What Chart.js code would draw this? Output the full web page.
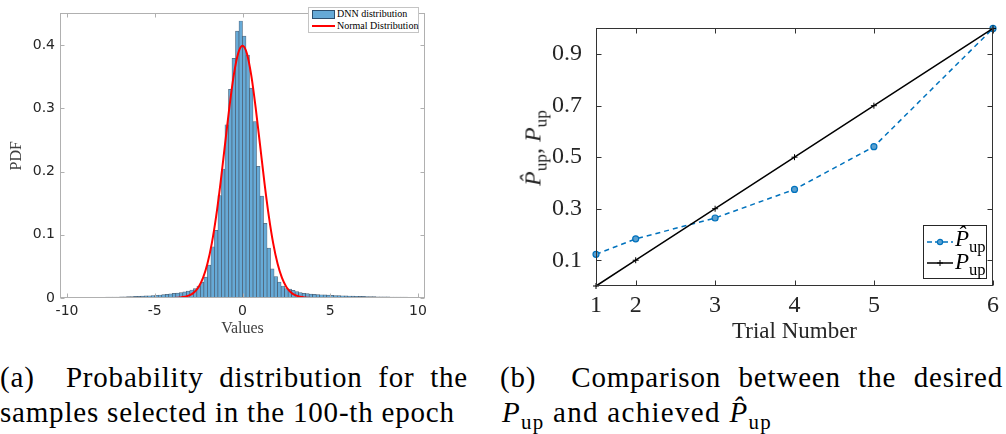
<!DOCTYPE html>
<html>
<head>
<meta charset="utf-8">
<script src="https://cdn.jsdelivr.net/npm/chart.js@4/dist/chart.umd.min.js"></script>
<style>
  html, body { margin: 0; padding: 0; background: #fff; }
  body { width: 1006px; height: 434px; position: relative; overflow: hidden; }
  .box { position: absolute; }
  .serif { font-family: 'Liberation Serif', serif; color: #000; }
  .nw { white-space: nowrap; }
  .cap { position: absolute; font-family: 'Liberation Serif', serif; font-size: 29px; line-height: 34px; white-space: nowrap; letter-spacing: 0.8px; }
  .just { text-align: justify; text-align-last: justify; white-space: normal; }
  sub { font-size: 72%; vertical-align: -0.35em; line-height: 0; font-style: normal; }
</style>
</head>
<body>
<div class="box" style="left:0;top:0;width:440px;height:360px"><canvas id="histChart"></canvas></div>
<div class="box" style="left:500px;top:0;width:506px;height:360px"><canvas id="trialChart"></canvas></div>

<!-- legend (a) -->
<div class="box serif" style="left:308px;top:7px;width:109px;height:24px;border:1px solid #c4c4c4;background:#fff;font-size:10px;line-height:12px">
  <div style="position:absolute;left:3px;top:2px;width:21px;height:7px;background:rgb(102,170,215);border:1px solid #2d4f6e"></div>
  <div class="nw" style="position:absolute;left:28px;top:0px">DNN distribution</div>
  <div style="position:absolute;left:3px;top:17px;width:23px;height:2px;background:#ff0000"></div>
  <div class="nw" style="position:absolute;left:28px;top:12px">Normal Distribution</div>
</div>

<!-- y title (b) -->
<div class="box serif" style="left:533px;top:148px;width:0;height:0">
  <div style="position:absolute;left:0;top:0;transform:translate(-50%,-50%) rotate(-90deg);font-size:24px;white-space:nowrap;color:#262626"><i>P̂</i><sub>up</sub>, <i>P</i><sub>up</sub></div>
</div>

<!-- legend (b) -->
<div class="box serif" style="left:923px;top:225px;width:62px;height:52px;border:1px solid #262626;background:#fff;font-size:23px">
  <svg style="position:absolute;left:2px;top:12px" width="28" height="8">
    <line x1="1" y1="4" x2="27" y2="4" stroke="#0072BD" stroke-width="1.5" stroke-dasharray="5,3"/>
    <circle cx="14" cy="4" r="2.6" fill="#5aa0d0" stroke="#0072BD" stroke-width="1.2"/>
  </svg>
  <div class="nw" style="position:absolute;left:31px;top:-2px;line-height:30px"><i>P̂</i><sub>up</sub></div>
  <svg style="position:absolute;left:2px;top:33px" width="28" height="8">
    <line x1="1" y1="4" x2="27" y2="4" stroke="#000" stroke-width="1.5"/>
    <line x1="14" y1="1" x2="14" y2="7" stroke="#000" stroke-width="1"/>
    <line x1="11" y1="4" x2="17" y2="4" stroke="#000" stroke-width="1"/>
  </svg>
  <div class="nw" style="position:absolute;left:31px;top:21px;line-height:30px"><i>P</i><sub>up</sub></div>
</div>

<!-- captions -->
<div class="cap just" style="left:0;top:360px;width:468px">(a)&nbsp; Probability distribution for the</div>
<div class="cap" style="left:0;top:395px">samples selected in the 100-th epoch</div>
<div class="cap just" style="left:500px;top:360px;width:503px">(b)&nbsp; Comparison between the desired</div>
<div class="cap" style="left:502px;top:395px;letter-spacing:1.3px"><i>P</i><sub>up</sub> and achieved <i>P̂</i><sub>up</sub></div>

<script>
// (a) histogram: bins of width 0.2 from -10 to 10
const binStart = -10;
const binWidth = 0.2;
const dnnPdf = [
  0.0005, 0.0005, 0.0006, 0.0006, 0.0007, 0.0008, 0.0008, 0.0009, 0.0010, 0.0011,
  0.0012, 0.0013, 0.0014, 0.0015, 0.0016, 0.0018, 0.0019, 0.0021, 0.0023, 0.0025,
  0.0027, 0.0030, 0.0033, 0.0036, 0.0040, 0.0044, 0.0048, 0.0053, 0.0059, 0.0066,
  0.0072, 0.0078, 0.0086, 0.0096, 0.0110,
  0.0127, 0.0150, 0.0190, 0.0250, 0.0330,
  0.052, 0.081, 0.107, 0.162, 0.204,
  0.274, 0.330, 0.379, 0.422, 0.438,
  0.414, 0.384, 0.332, 0.279, 0.208,
  0.161, 0.118, 0.079, 0.046, 0.034,
  0.025, 0.019, 0.015, 0.014, 0.012,
  0.010, 0.0085, 0.0075, 0.0068, 0.0062,
  0.0058, 0.0055, 0.0052, 0.0049, 0.0046, 0.0043, 0.0040, 0.0038, 0.0036, 0.0034,
  0.0032, 0.0030, 0.0028, 0.0026, 0.0025, 0.0024, 0.0022, 0.0021, 0.0020, 0.0019,
  0.0018, 0.0017, 0.0016, 0.0015, 0.0014, 0.0013, 0.0013, 0.0012, 0.0011, 0.0010
];
// red curve
const normX = [-5, -4.5, -4, -3.5, -3, -2.75, -2.5, -2.25, -2, -1.75, -1.5, -1.25, -1, -0.75, -0.5, -0.25, 0,
               0.25, 0.5, 0.75, 1, 1.25, 1.5, 1.75, 2, 2.25, 2.5, 2.75, 3, 3.5, 4, 4.5, 5];
const normY = [0, 0, 0.0001, 0.0009, 0.0044, 0.0091, 0.0175, 0.0317, 0.054, 0.0863, 0.1295, 0.1826, 0.242, 0.3011, 0.3521, 0.3867, 0.399,
               0.3867, 0.3521, 0.3011, 0.242, 0.1826, 0.1295, 0.0863, 0.054, 0.0317, 0.0175, 0.0091, 0.0044, 0.0009, 0.0001, 0, 0];
const xTicksA = [-10, -5, 0, 5, 10];
const yTicksA = [0, 0.1, 0.2, 0.3, 0.4];

// (b) trials: x position is the desired P_up
const trialPos = [0, 0.1, 0.3, 0.5, 0.7, 1.0];
const trialLabels = ['1', '2', '3', '4', '5', '6'];
const pDesired = [0, 0.1, 0.3, 0.5, 0.7, 1.0];
const pAchieved = [0.123, 0.183, 0.264, 0.375, 0.541, 1.0];
const yTicksB = [0.1, 0.3, 0.5, 0.7, 0.9];

// frame round the axes with inward ticks, MATLAB style
const boxTicks = {
  id: 'boxTicks',
  afterDraw(chart, args, opts) {
    const { ctx, chartArea: a, scales } = chart;
    const L = opts.len;
    ctx.save();
    ctx.strokeStyle = opts.color;
    ctx.lineWidth = 1;
    const l = Math.round(a.left) + 0.5, r = Math.round(a.right) - 0.5;
    const t = Math.round(a.top) + 0.5, b = Math.round(a.bottom) - 0.5;
    ctx.strokeRect(l, t, r - l, b - t);
    ctx.beginPath();
    scales.x.ticks.forEach(tk => {
      const px = Math.round(scales.x.getPixelForValue(tk.value)) + 0.5;
      ctx.moveTo(px, b); ctx.lineTo(px, b - L);
      ctx.moveTo(px, t); ctx.lineTo(px, t + L);
    });
    scales.y.ticks.forEach(tk => {
      const py = Math.round(scales.y.getPixelForValue(tk.value)) + 0.5;
      ctx.moveTo(l, py); ctx.lineTo(l + L, py);
      ctx.moveTo(r, py); ctx.lineTo(r - L, py);
    });
    ctx.stroke();
    ctx.restore();
  }
};

const sans = 'DejaVu Sans';
const serif = 'Liberation Serif';

new Chart(document.getElementById('histChart'), {
  data: {
    datasets: [{
      type: 'line',
      label: 'Normal Distribution',
      data: normX.map((x, i) => ({ x: x, y: normY[i] })),
      borderColor: '#ff0000',
      borderWidth: 2,
      pointRadius: 0,
      cubicInterpolationMode: 'monotone'
    }, {
      type: 'bar',
      label: 'DNN distribution',
      data: dnnPdf.map((v, i) => ({ x: binStart + binWidth * (i + 0.5), y: v })),
      backgroundColor: 'rgb(102,170,215)',
      borderColor: 'rgba(30,55,80,0.75)',
      borderWidth: 0.7,
      barPercentage: 1,
      categoryPercentage: 1,
      grouped: false
    }]
  },
  options: {
    responsive: true,
    maintainAspectRatio: false,
    animation: false,
    layout: { padding: { left: 0, top: 2, right: 15, bottom: 0 } },
    plugins: {
      legend: { display: false },
      tooltip: { enabled: false },
      boxTicks: { color: '#b0b0b0', len: 4 }
    },
    scales: {
      x: {
        type: 'linear',
        offset: false,
        min: -10.4,
        max: 10.4,
        afterBuildTicks: s => { s.ticks = xTicksA.map(v => ({ value: v })); },
        afterFit: s => { s.height = 62; },
        grid: { display: false, drawTicks: false, offset: false },
        border: { display: false },
        ticks: { color: '#262626', font: { family: sans, size: 14 }, padding: 5, maxRotation: 0, callback: v => String(v) },
        title: { display: true, text: 'Values', color: '#404040', font: { family: serif, size: 16 }, padding: { top: 0, bottom: 22 } }
      },
      y: {
        min: 0,
        max: 0.45,
        afterBuildTicks: s => { s.ticks = yTicksA.map(v => ({ value: v })); },
        afterFit: s => { s.width = 60; },
        grid: { display: false, drawTicks: false },
        border: { display: false },
        ticks: { color: '#262626', font: { family: sans, size: 14 }, padding: 5, callback: v => String(v) },
        title: { display: true, text: 'PDF', color: '#404040', font: { family: serif, size: 16 }, padding: { top: 7, bottom: 0 } }
      }
    }
  },
  plugins: [boxTicks]
});

new Chart(document.getElementById('trialChart'), {
  type: 'line',
  data: {
    datasets: [{
      label: 'P_up',
      data: trialPos.map((x, i) => ({ x: x, y: pDesired[i] })),
      borderColor: '#000',
      borderWidth: 1.5,
      pointStyle: 'cross',
      pointRadius: 3,
      pointBorderWidth: 1,
      pointBorderColor: '#000',
      clip: false
    }, {
      label: 'P̂_up',
      data: trialPos.map((x, i) => ({ x: x, y: pAchieved[i] })),
      borderColor: '#0072BD',
      borderWidth: 1.5,
      borderDash: [5, 4],
      pointStyle: 'circle',
      pointRadius: 3,
      pointBorderWidth: 1.2,
      pointBorderColor: '#0072BD',
      pointBackgroundColor: '#5aa0d0',
      clip: false
    }]
  },
  options: {
    responsive: true,
    maintainAspectRatio: false,
    animation: false,
    layout: { padding: { left: 0, top: 9, right: 13, bottom: 0 } },
    plugins: {
      legend: { display: false },
      tooltip: { enabled: false },
      boxTicks: { color: '#333333', len: 5 }
    },
    scales: {
      x: {
        type: 'linear',
        min: 0,
        max: 1,
        afterBuildTicks: s => { s.ticks = trialPos.map(v => ({ value: v })); },
        afterFit: s => { s.height = 74; },
        grid: { display: false, drawTicks: false },
        border: { display: false },
        ticks: { color: '#262626', font: { family: serif, size: 24 }, padding: 5, maxRotation: 0,
                 callback: (v, i) => trialLabels[i] },
        title: { display: true, text: 'Trial Number', color: '#262626', font: { family: serif, size: 23 }, padding: { top: 0, bottom: 14 } }
      },
      y: {
        min: 0,
        max: 1,
        afterBuildTicks: s => { s.ticks = yTicksB.map(v => ({ value: v })); },
        afterFit: s => { s.width = 96; },
        grid: { display: false, drawTicks: false },
        border: { display: false },
        ticks: { color: '#262626', font: { family: serif, size: 24 }, padding: 14, callback: v => v.toFixed(1) }
      }
    }
  },
  plugins: [boxTicks]
});
</script>
</body>
</html>
